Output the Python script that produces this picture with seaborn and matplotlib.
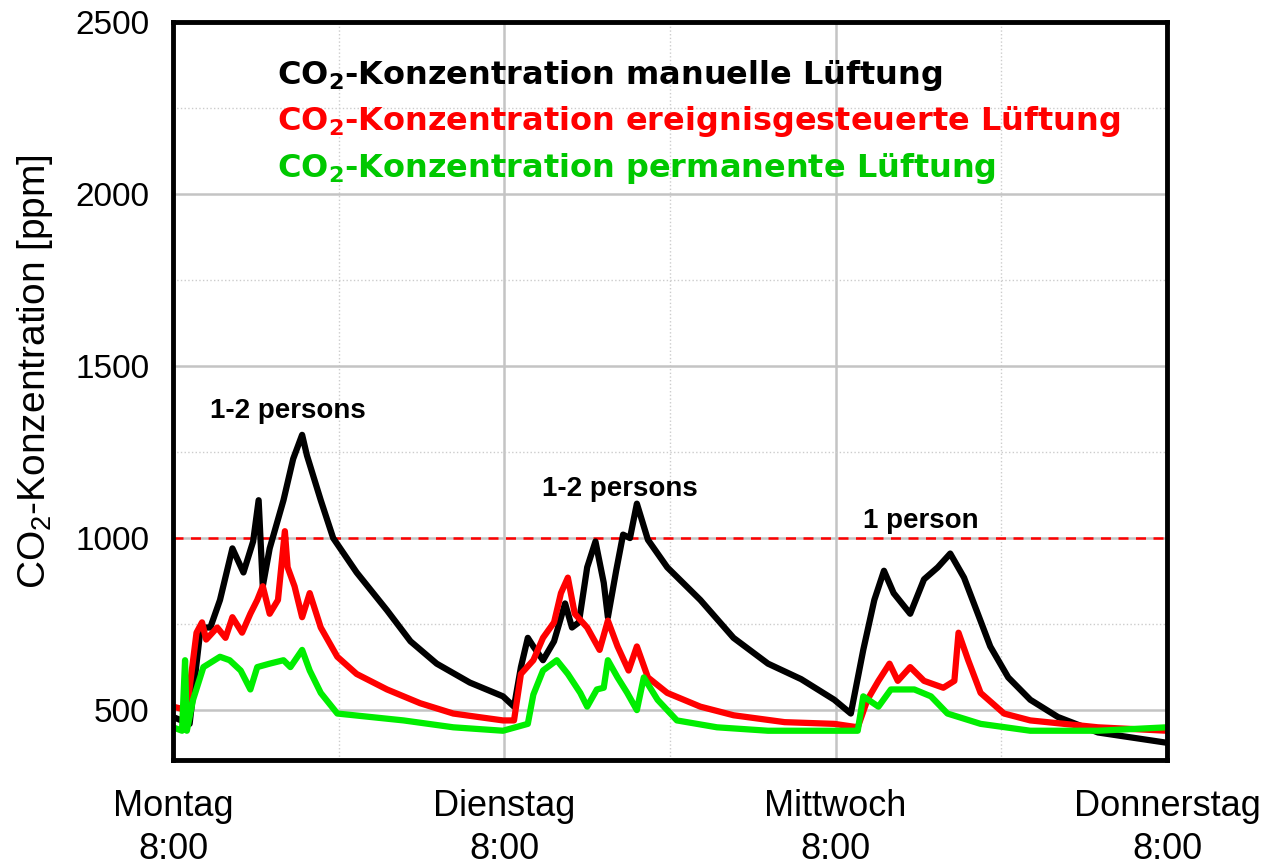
import pandas as pd
import numpy as np
import matplotlib
matplotlib.use('Agg')
import matplotlib.pyplot as plt
import seaborn as sns
from matplotlib.ticker import MultipleLocator

# Stunden ab Montag 8:00 und CO2-Werte [ppm]
manuell_h = [0.0, 1.2, 2.0, 2.7, 3.4, 4.3, 5.1, 5.8, 6.2, 6.5, 7.0, 8.0, 8.7, 9.35, 9.7,
             10.7, 11.6, 13.3, 15.5, 17.2, 19.1, 21.5, 23.9, 24.7, 25.2, 25.7, 26.1, 26.8,
             27.6, 28.4, 28.9, 29.4, 30.0, 30.6, 31.2, 31.5, 32.1, 32.6, 33.1, 33.6, 34.4,
             35.8, 38.2, 40.6, 43.1, 45.5, 47.9, 49.1, 50.0, 50.8, 51.5, 52.2, 53.4, 54.4,
             55.4, 56.3, 57.3, 58.3, 59.2, 60.5, 62.1, 64.1, 67.0, 72.0]
manuell_ppm = [480, 460, 740, 740, 820, 970, 900, 990, 1110, 860, 970, 1110, 1230, 1300, 1240,
               1110, 1000, 900, 790, 700, 635, 580, 540, 510, 625, 710, 685, 645,
               700, 810, 740, 755, 915, 990, 870, 770, 905, 1010, 1000, 1100, 995,
               915, 820, 710, 635, 590, 530, 490, 675, 820, 905, 840, 780, 880,
               915, 955, 885, 780, 685, 595, 530, 480, 435, 405]

ereignis_h = [0.0, 1.0, 1.7, 2.1, 2.4, 3.2, 3.8, 4.3, 5.0, 5.6, 6.1, 6.5, 7.0, 7.6, 8.1, 8.3,
              8.8, 9.35, 9.9, 10.7, 11.9, 13.3, 15.5, 17.9, 20.3, 23.9, 24.7, 25.2, 26.1,
              26.8, 27.6, 28.1, 28.6, 29.1, 30.0, 30.9, 31.5, 32.2, 33.0, 33.6, 34.4, 35.8,
              38.2, 40.6, 44.3, 47.9, 49.6, 50.3, 51.1, 51.9, 52.5, 53.4, 54.4, 55.8, 56.6,
              56.9, 57.6, 58.5, 60.2, 62.1, 67.0, 72.0]
ereignis_ppm = [510, 500, 725, 755, 705, 740, 710, 770, 725, 780, 820, 860, 780, 820, 1020, 915,
                860, 770, 840, 740, 655, 605, 560, 520, 490, 470, 470, 605, 645,
                710, 755, 840, 885, 780, 740, 675, 760, 685, 615, 685, 595, 550,
                510, 485, 465, 460, 450, 530, 585, 635, 585, 625, 585, 565, 585,
                725, 645, 550, 490, 470, 450, 440]

permanent_h = [0.0, 0.65, 0.87, 1.0, 1.45, 2.2, 3.4, 4.1, 4.9, 5.6, 6.1, 7.0, 8.0, 8.5, 9.35,
               9.9, 10.7, 11.9, 14.3, 16.7, 20.3, 23.9, 25.7, 26.1, 26.8, 27.8, 28.6, 29.5,
               30.0, 30.7, 31.2, 31.5, 32.2, 32.9, 33.6, 34.1, 35.1, 36.5, 39.4, 43.1, 47.9,
               49.6, 50.0, 51.1, 52.0, 53.7, 54.9, 56.1, 58.5, 62.1, 67.0, 72.0]
permanent_ppm = [450, 440, 645, 440, 530, 625, 655, 645, 615, 560, 625, 635, 645, 625, 675,
                 615, 550, 490, 480, 470, 450, 440, 460, 545, 615, 645, 605, 550,
                 510, 560, 565, 645, 595, 550, 500, 595, 530, 470, 450, 440, 440,
                 440, 540, 510, 560, 560, 540, 490, 460, 440, 440, 450]

serien = ['manuell', 'ereignis', 'permanent']
legende = ['CO$_\\mathbf{2}$-Konzentration manuelle Lüftung',
           'CO$_\\mathbf{2}$-Konzentration ereignisgesteuerte Lüftung',
           'CO$_\\mathbf{2}$-Konzentration permanente Lüftung']
tick_pos = [0, 24, 48, 72]
tick_labels = ['Montag\n8:00', 'Dienstag\n8:00', 'Mittwoch\n8:00', 'Donnerstag\n8:00']
grenzwert = 1000
notizen = [(8.3, 1370, '1-2 persons'), (32.4, 1143, '1-2 persons'), (54.2, 1050, '1 person')]

df = pd.concat([
    pd.DataFrame({'h': manuell_h, 'ppm': manuell_ppm, 'serie': 'manuell'}),
    pd.DataFrame({'h': ereignis_h, 'ppm': ereignis_ppm, 'serie': 'ereignis'}),
    pd.DataFrame({'h': permanent_h, 'ppm': permanent_ppm, 'serie': 'permanent'}),
], ignore_index=True)

sns.set_style('white')
plt.rcParams['font.family'] = ['Liberation Sans', 'DejaVu Sans']
plt.rcParams['mathtext.fontset'] = 'custom'
plt.rcParams['mathtext.rm'] = 'Liberation Sans'
plt.rcParams['mathtext.bf'] = 'DejaVu Sans:bold'
for k in ['text.color', 'axes.labelcolor', 'xtick.color', 'ytick.color']:
    plt.rcParams[k] = 'black'

fig = plt.figure(figsize=(12.79, 8.65), dpi=100)
ax = fig.add_axes([0.1353, 0.1214, 0.7771, 0.8532])

farben = {'manuell': '#000000', 'ereignis': '#ff0000', 'permanent': '#00ee00'}
sns.lineplot(data=df, x='h', y='ppm', hue='serie', palette=farben, hue_order=serien,
             sort=False, estimator=None, linewidth=4.5, legend=False, ax=ax)

ax.axhline(grenzwert, color='#ff0000', ls=(0, (4, 3)), lw=1.8, zorder=1)

ax.set_xlim(0, 72)
ax.set_ylim(355, 2500)
ax.set_xticks(tick_pos)
ax.set_xticklabels(tick_labels, fontsize=26, linespacing=1.3)
ax.xaxis.set_minor_locator(MultipleLocator(12))
ax.set_yticks([500, 1000, 1500, 2000, 2500])
ax.yaxis.set_minor_locator(MultipleLocator(250))
ax.tick_params(axis='y', labelsize=24)
ax.tick_params(which='major', direction='out', length=9, width=3, pad=8)
ax.tick_params(axis='x', which='major', pad=12)
ax.tick_params(which='minor', direction='out', length=5, width=3)
ax.grid(which='major', color='#c4c4c4', lw=1.8, ls='-')
ax.grid(which='minor', color='#cccccc', lw=1, ls=':')
ax.set_axisbelow(True)
for s in ax.spines.values():
    s.set_linewidth(3.5)
    s.set_color('black')

ax.set_xlabel('')
ax.set_ylabel('CO$_2$-Konzentration [ppm]', fontsize=28)
ax.yaxis.set_label_coords(-0.119, 0.527)

text_farben = ['#000000', '#ff0000', '#00c800']
for i, (t, c) in enumerate(zip(legende, text_farben)):
    ax.text(0.105, 0.928 - i * 0.0635, t, transform=ax.transAxes, color=c, fontsize=23,
            fontweight='bold', family=['DejaVu Sans'], va='center', ha='left')

for x, y, t in notizen:
    ax.text(x, y, t, fontsize=20, fontweight='bold', ha='center', va='center')

fig.savefig('out.png', dpi=100)
